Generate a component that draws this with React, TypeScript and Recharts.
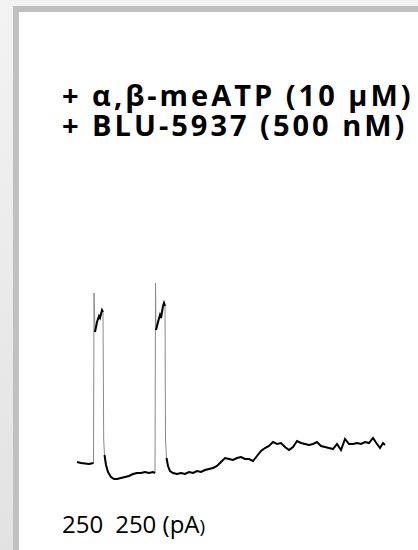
import React from 'react';
import { LineChart, Line, XAxis, YAxis } from 'recharts';

// whole-cell current trace, time in s, current in pA (inward down)
const TIME_S = [
    0, 2, 4, 6, 8.25,
    8.5, 9, 10, 11, 11.5, 12.5, 13,
    13.35, 13.75, 14.5, 15.5, 17, 18.5, 20, 22, 24, 26, 28, 30, 32, 34, 36, 38, 39,
    39.25, 39.5, 40.5, 41.5, 42, 43, 43.5, 44,
    44.25, 44.75, 45.5, 46.5, 48, 50, 52, 54, 56, 58, 60, 62, 64, 66, 68, 70,
    72, 74, 76, 78, 80, 82, 84, 86, 88, 90, 92, 94, 96, 98, 100, 102, 104, 106,
    108, 110, 112, 114, 116, 118, 120, 122, 124, 126, 128, 130, 132, 134, 136,
    138, 140, 142, 144, 146, 148, 150, 151.5, 153, 154,
];
const CURRENT_PA = [
    10, 0, -5, -10, 0,
    1700, 1310, 1410, 1470, 1450, 1530, 1510,
    230, 80, -20, -90, -140, -160, -160, -150, -140, -130, -110, -100, -100, -90, -100, -90, -100,
    1800, 1330, 1410, 1480, 1450, 1570, 1600, 1570,
    230, 50, -30, -80, -100, -110, -100, -110, -90, -100, -80, -90, -70, -60, -50, -30,
    10, 50, 40, 30, 50, 60, 40, 40, 20, 70, 120, 150, 170, 210, 190, 200, 160, 130,
    160, 220, 200, 190, 180, 190, 210, 170, 160, 150, 140, 190, 130, 240, 190,
    190, 200, 190, 210, 200, 250, 190, 150, 200, 180,
];
// fast transients (drawn thin, grey)
const FAST_TIMES = [8.5, 13.35, 39.25, 44.25];

const data = TIME_S.map((t, i) => ({
    t,
    raw: CURRENT_PA[i],
    slow: FAST_TIMES.includes(t) ? null : CURRENT_PA[i],
}));

const W = 418;
const H = 550;
// pixel placement of the trace: 2 px per s, 1 px per 10 pA
const X0 = 77, PX_PER_S = 2;
const Y0 = 463, PX_PER_PA = 0.1;

export default function App() {
    return (
        <div style={{
            position: 'fixed', left: 0, top: 0, width: W, height: H, overflow: 'hidden',
            background: 'linear-gradient(180deg, #f3f3f3 0%, #e2e2e2 100%)',
            fontFamily: '"Open Sans", sans-serif',
        }}>
            <div style={{
                position: 'absolute', left: 13, top: 6, right: 0, bottom: 0,
                borderLeft: '6px solid #c0c0c0', borderTop: '6px solid #c0c0c0', background: '#fff',
            }} />
            <div style={{
                position: 'absolute', left: 62, top: 80, fontSize: 29, fontWeight: 700,
                lineHeight: '30px', letterSpacing: 3, color: '#000', whiteSpace: 'nowrap',
            }}>
                <div>+ α,β-meATP (10 μM)</div>
                <div>+ BLU-5937 (500 nM)</div>
            </div>
            <div style={{ position: 'absolute', left: 0, top: 0 }}>
                <LineChart width={W} height={H} data={data} margin={{ top: 0, right: 0, bottom: 0, left: 0 }}>
                    <XAxis type="number" dataKey="t" hide
                        domain={[-X0 / PX_PER_S, (W - X0) / PX_PER_S]} allowDataOverflow />
                    <YAxis type="number" hide width={0}
                        domain={[-(H - Y0) / PX_PER_PA, Y0 / PX_PER_PA]} allowDataOverflow />
                    <Line dataKey="raw" type="linear" stroke="#8a8a8a" strokeWidth={1}
                        dot={false} activeDot={false} isAnimationActive={false} />
                    <Line dataKey="slow" type="linear" stroke="#000" strokeWidth={2}
                        dot={false} activeDot={false} connectNulls={false} isAnimationActive={false} />
                </LineChart>
            </div>
            <div style={{
                position: 'absolute', left: 62, top: 507, fontSize: 24, color: '#000', whiteSpace: 'nowrap',
            }}>
                250<span style={{ marginLeft: 12 }}>250 (pA</span><span style={{ fontSize: 19 }}>)</span>
            </div>
        </div>
    );
}
